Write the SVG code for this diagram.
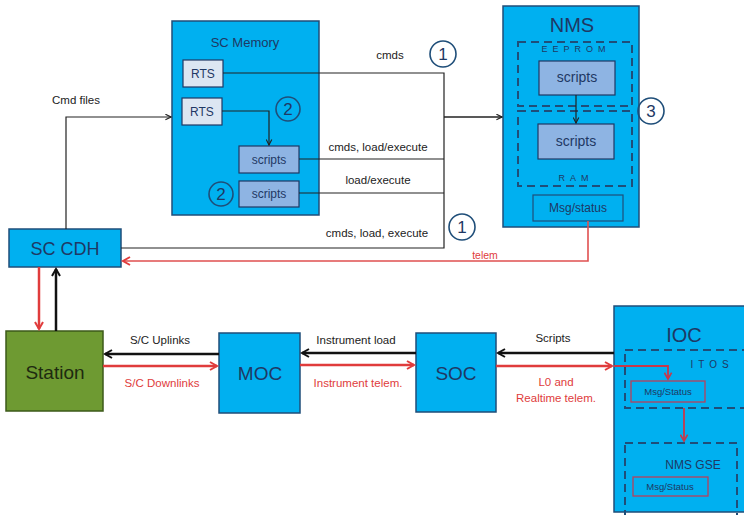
<svg xmlns="http://www.w3.org/2000/svg" width="744" height="515" viewBox="0 0 744 515">
  <defs>
    <marker id="arrK" viewBox="0 0 10 10" refX="9" refY="5" markerWidth="7" markerHeight="7" markerUnits="userSpaceOnUse" orient="auto">
      <polyline points="1,1 9,5 1,9" fill="none" stroke="#222" stroke-width="1.6"/>
    </marker>
    <marker id="arrKb" viewBox="0 0 10 10" refX="8" refY="5" markerWidth="10" markerHeight="10" markerUnits="userSpaceOnUse" orient="auto">
      <polyline points="1,1 8,5 1,9" fill="none" stroke="#111" stroke-width="2"/>
    </marker>
    <marker id="arrR" viewBox="0 0 10 10" refX="8" refY="5" markerWidth="10" markerHeight="10" markerUnits="userSpaceOnUse" orient="auto">
      <polyline points="1,1 8,5 1,9" fill="none" stroke="#e03c3c" stroke-width="2"/>
    </marker>
    <marker id="arrRs" viewBox="0 0 10 10" refX="8" refY="5" markerWidth="9" markerHeight="9" markerUnits="userSpaceOnUse" orient="auto">
      <polyline points="1,1 8,5 1,9" fill="none" stroke="#c8384a" stroke-width="1.8"/>
    </marker>
  </defs>
  <style>
    text { font-family: "Liberation Sans", Arial, sans-serif; }
    .blue { fill: #00b0f0; stroke: #1f4e79; stroke-width: 1.5; }
    .rts { fill: #dce6f2; stroke: #1f3864; stroke-width: 1.2; }
    .scr { fill: #8eb4e3; stroke: #1f3864; stroke-width: 1.2; }
    .dash { fill: none; stroke: #1f4e79; stroke-width: 2; stroke-dasharray: 8 5; }
    .msg { fill: none; stroke: #b8405a; stroke-width: 1.3; }
    .big { font-size: 19px; fill: #1f3864; text-anchor: middle; }
    .mid { font-size: 12px; fill: #1f3864; text-anchor: middle; }
    .lab { font-size: 11.5px; fill: #222; text-anchor: middle; }
    .labr { font-size: 11.5px; fill: #e03c3c; text-anchor: middle; }
    .sp { font-size: 9px; fill: #1f3864; text-anchor: middle; letter-spacing: 5px; }
    .num { fill: none; stroke: #1f4e79; stroke-width: 1.6; }
    .numt { font-size: 17px; fill: #1f3864; text-anchor: middle; }
    .k { fill: none; stroke: #222; stroke-width: 1.2; }
    .kb { fill: none; stroke: #111; stroke-width: 2.5; }
    .rb { fill: none; stroke: #e03c3c; stroke-width: 2.5; }
  </style>
  <rect width="744" height="515" fill="#ffffff"/>

  <!-- SC Memory -->
  <g id="sc-memory">
    <rect class="blue" x="172" y="21" width="147" height="194"/>
    <text class="mid" x="245" y="47" style="font-size:13px">SC Memory</text>
    <rect class="rts" x="183" y="60" width="40" height="27"/>
    <text class="mid" x="203" y="78">RTS</text>
    <rect class="rts" x="182" y="98" width="40" height="27"/>
    <text class="mid" x="202" y="116">RTS</text>
    <rect class="scr" x="239" y="146" width="60" height="27"/>
    <text class="mid" x="269" y="164">scripts</text>
    <rect class="scr" x="239" y="181" width="60" height="26"/>
    <text class="mid" x="269" y="198">scripts</text>
    <circle class="num" cx="288" cy="109" r="12"/>
    <text class="numt" x="288" y="115">2</text>
    <circle class="num" cx="221" cy="194" r="12"/>
    <text class="numt" x="221" y="200">2</text>
  </g>

  <!-- NMS -->
  <g id="nms">
    <rect class="blue" x="503" y="6" width="136" height="221"/>
    <text class="big" x="572" y="32" style="font-size:20px">NMS</text>
    <rect class="dash" x="518" y="42" width="114" height="64"/>
    <text class="sp" x="576" y="52">EEPROM</text>
    <rect class="scr" x="539" y="61" width="76" height="34"/>
    <text class="mid" x="577" y="82" style="font-size:14px">scripts</text>
    <rect class="dash" x="518" y="111" width="114" height="75"/>
    <rect class="scr" x="538" y="124" width="76" height="35"/>
    <text class="mid" x="576" y="146" style="font-size:14px">scripts</text>
    <text class="sp" x="576" y="181">RAM</text>
    <rect class="blue" x="533" y="195" width="90" height="26" style="stroke-width:1.2"/>
    <text class="mid" x="578" y="212">Msg/status</text>
  </g>

  <!-- SC CDH -->
  <g id="sc-cdh">
    <rect class="blue" x="9" y="229" width="112" height="38"/>
    <text class="big" x="65" y="255" style="font-size:18px">SC CDH</text>
  </g>

  <!-- Station -->
  <g id="station">
    <rect x="6" y="331" width="97" height="80" fill="#6e9a32" stroke="#3d5a1a" stroke-width="1.5"/>
    <text class="big" x="55" y="379" style="fill:#1e2a10">Station</text>
  </g>

  <!-- MOC -->
  <g id="moc">
    <rect class="blue" x="219" y="333" width="81" height="80"/>
    <text class="big" x="260" y="380">MOC</text>
  </g>

  <!-- SOC -->
  <g id="soc">
    <rect class="blue" x="416" y="333" width="80" height="79"/>
    <text class="big" x="456" y="380">SOC</text>
  </g>

  <!-- IOC -->
  <g id="ioc">
    <rect class="blue" x="614" y="306" width="140" height="206"/>
    <text class="big" x="684" y="342" style="font-size:20px">IOC</text>
    <rect class="dash" x="625" y="350" width="130" height="58"/>
    <text class="sp" x="712" y="368" style="font-size:10px">ITOS</text>
    <rect class="msg" x="631" y="381" width="74" height="21"/>
    <text class="mid" x="668" y="395" style="font-size:9.5px">Msg/Status</text>
    <rect class="dash" x="625" y="443" width="112" height="75"/>
    <text class="mid" x="693" y="469" style="font-size:12px">NMS GSE</text>
    <rect class="msg" x="633" y="477" width="75" height="19"/>
    <text class="mid" x="670" y="490" style="font-size:9.5px">Msg/Status</text>
  </g>

  <!-- Number markers on the command paths -->
  <g id="markers">
    <circle class="num" cx="443" cy="54" r="13"/>
    <text class="numt" x="443" y="60">1</text>
    <circle class="num" cx="462" cy="227" r="13"/>
    <text class="numt" x="462" y="233">1</text>
    <circle class="num" cx="651" cy="111" r="13"/>
    <text class="numt" x="651" y="117">3</text>
  </g>

  <!-- Connectors -->
  <g id="connectors">
    <!-- uplink command bus into NMS -->
    <polyline class="k" points="223,73 444,73 444,248 121,248"/>
    <line class="k" x1="299" y1="159" x2="444" y2="159"/>
    <line class="k" x1="299" y1="193" x2="444" y2="193"/>
    <line class="k" x1="444" y1="117" x2="502" y2="117" style="stroke-width:1.6" marker-end="url(#arrK)"/>
    <!-- RTS to scripts -->
    <polyline class="k" points="222,111 269,111 269,145" marker-end="url(#arrK)"/>
    <!-- EEPROM scripts to RAM scripts -->
    <line class="k" x1="576" y1="95" x2="576" y2="123" marker-end="url(#arrK)"/>
    <!-- Cmd files -->
    <polyline class="k" points="66,229 66,117 171,117" marker-end="url(#arrK)"/>
    <!-- telemetry back to SC CDH -->
    <polyline points="588,221 588,261 123,261" fill="none" stroke="#e05050" stroke-width="1.6" marker-end="url(#arrR)"/>
    <!-- SC CDH / Station -->
    <line class="rb" x1="39" y1="267" x2="39" y2="329" marker-end="url(#arrR)"/>
    <line class="kb" x1="56" y1="331" x2="56" y2="269" marker-end="url(#arrKb)"/>
    <!-- Station / MOC -->
    <line class="kb" x1="219" y1="354" x2="105" y2="354" marker-end="url(#arrKb)"/>
    <line class="rb" x1="103" y1="366" x2="217" y2="366" marker-end="url(#arrR)"/>
    <!-- MOC / SOC -->
    <line class="kb" x1="416" y1="353" x2="302" y2="353" marker-end="url(#arrKb)"/>
    <line class="rb" x1="300" y1="365" x2="414" y2="365" marker-end="url(#arrR)"/>
    <!-- SOC / IOC -->
    <line class="kb" x1="614" y1="353" x2="498" y2="353" marker-end="url(#arrKb)"/>
    <line class="rb" x1="496" y1="366" x2="612" y2="366" marker-end="url(#arrR)"/>
    <!-- inside IOC -->
    <polyline points="614,366 668,366 668,379" fill="none" stroke="#c8384a" stroke-width="1.8" marker-end="url(#arrRs)"/>
    <line x1="684" y1="408" x2="684" y2="441" stroke="#c8384a" stroke-width="1.8" marker-end="url(#arrRs)"/>
  </g>

  <!-- Connector labels -->
  <g id="labels">
    <text class="lab" x="390" y="59">cmds</text>
    <text class="lab" x="378" y="151">cmds, load/execute</text>
    <text class="lab" x="378" y="184">load/execute</text>
    <text class="lab" x="377" y="237">cmds, load, execute</text>
    <text class="lab" x="76" y="104">Cmd files</text>
    <text class="labr" x="485" y="259" style="font-size:10.5px">telem</text>
    <text class="lab" x="160" y="344">S/C Uplinks</text>
    <text class="labr" x="162" y="387">S/C Downlinks</text>
    <text class="lab" x="356" y="344">Instrument load</text>
    <text class="labr" x="358" y="387">Instrument telem.</text>
    <text class="lab" x="553" y="342">Scripts</text>
    <text class="labr" x="556" y="386">L0 and</text>
    <text class="labr" x="556" y="402">Realtime telem.</text>
  </g>
</svg>
